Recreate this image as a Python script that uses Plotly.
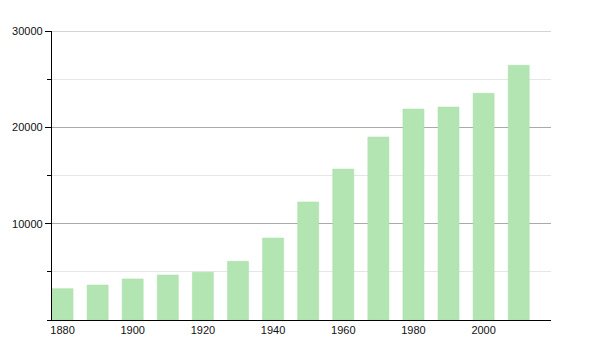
import plotly.graph_objects as go

years = [1880, 1890, 1900, 1910, 1920, 1930, 1940, 1950, 1960, 1970, 1980, 1990, 2000, 2010]
population = [3250, 3630, 4260, 4670, 4950, 6090, 8510, 12250, 15670, 19000, 21900, 22110, 23530, 26440]
x_ticks = [1880, 1900, 1920, 1940, 1960, 1980, 2000]
y_ticks = [10000, 20000, 30000]
y_max = 30000

fig = go.Figure(go.Bar(
    x=years, y=population, width=6,
    marker=dict(color="rgb(178,229,178)", line=dict(width=0.5, color="rgb(168,222,168)")),
))

fig.update_layout(
    width=600, height=350,
    margin=dict(l=50, r=49, t=31, b=30),
    paper_bgcolor="white", plot_bgcolor="white",
    font=dict(family="Liberation Sans, Arial, sans-serif", size=11, color="#111"),
    showlegend=False,
)
fig.add_shape(type="line", xref="paper", x0=0, x1=1, yref="y", y0=y_max, y1=y_max,
              line=dict(color="#aaaaaa", width=1), layer="below")
fig.update_xaxes(
    range=[1877, 2019.2], tickvals=x_ticks, ticktext=[str(v) for v in x_ticks],
    showgrid=False, showline=True, linecolor="black", linewidth=1.3,
    ticks="", zeroline=False, ticklabelstandoff=0,
)
fig.update_yaxes(
    range=[0, y_max], tickvals=y_ticks, ticktext=[str(v) for v in y_ticks],
    showgrid=True, gridcolor="#aaaaaa", gridwidth=1,
    showline=True, linecolor="black", linewidth=1.3,
    ticks="outside", ticklen=6, tickcolor="black", tickwidth=1,
    zeroline=False,
    minor=dict(dtick=5000, tick0=0, ticks="outside", ticklen=4, tickcolor="black",
               showgrid=True, gridcolor="#e6e6e6", gridwidth=1),
)

fig.write_html("out.html")
